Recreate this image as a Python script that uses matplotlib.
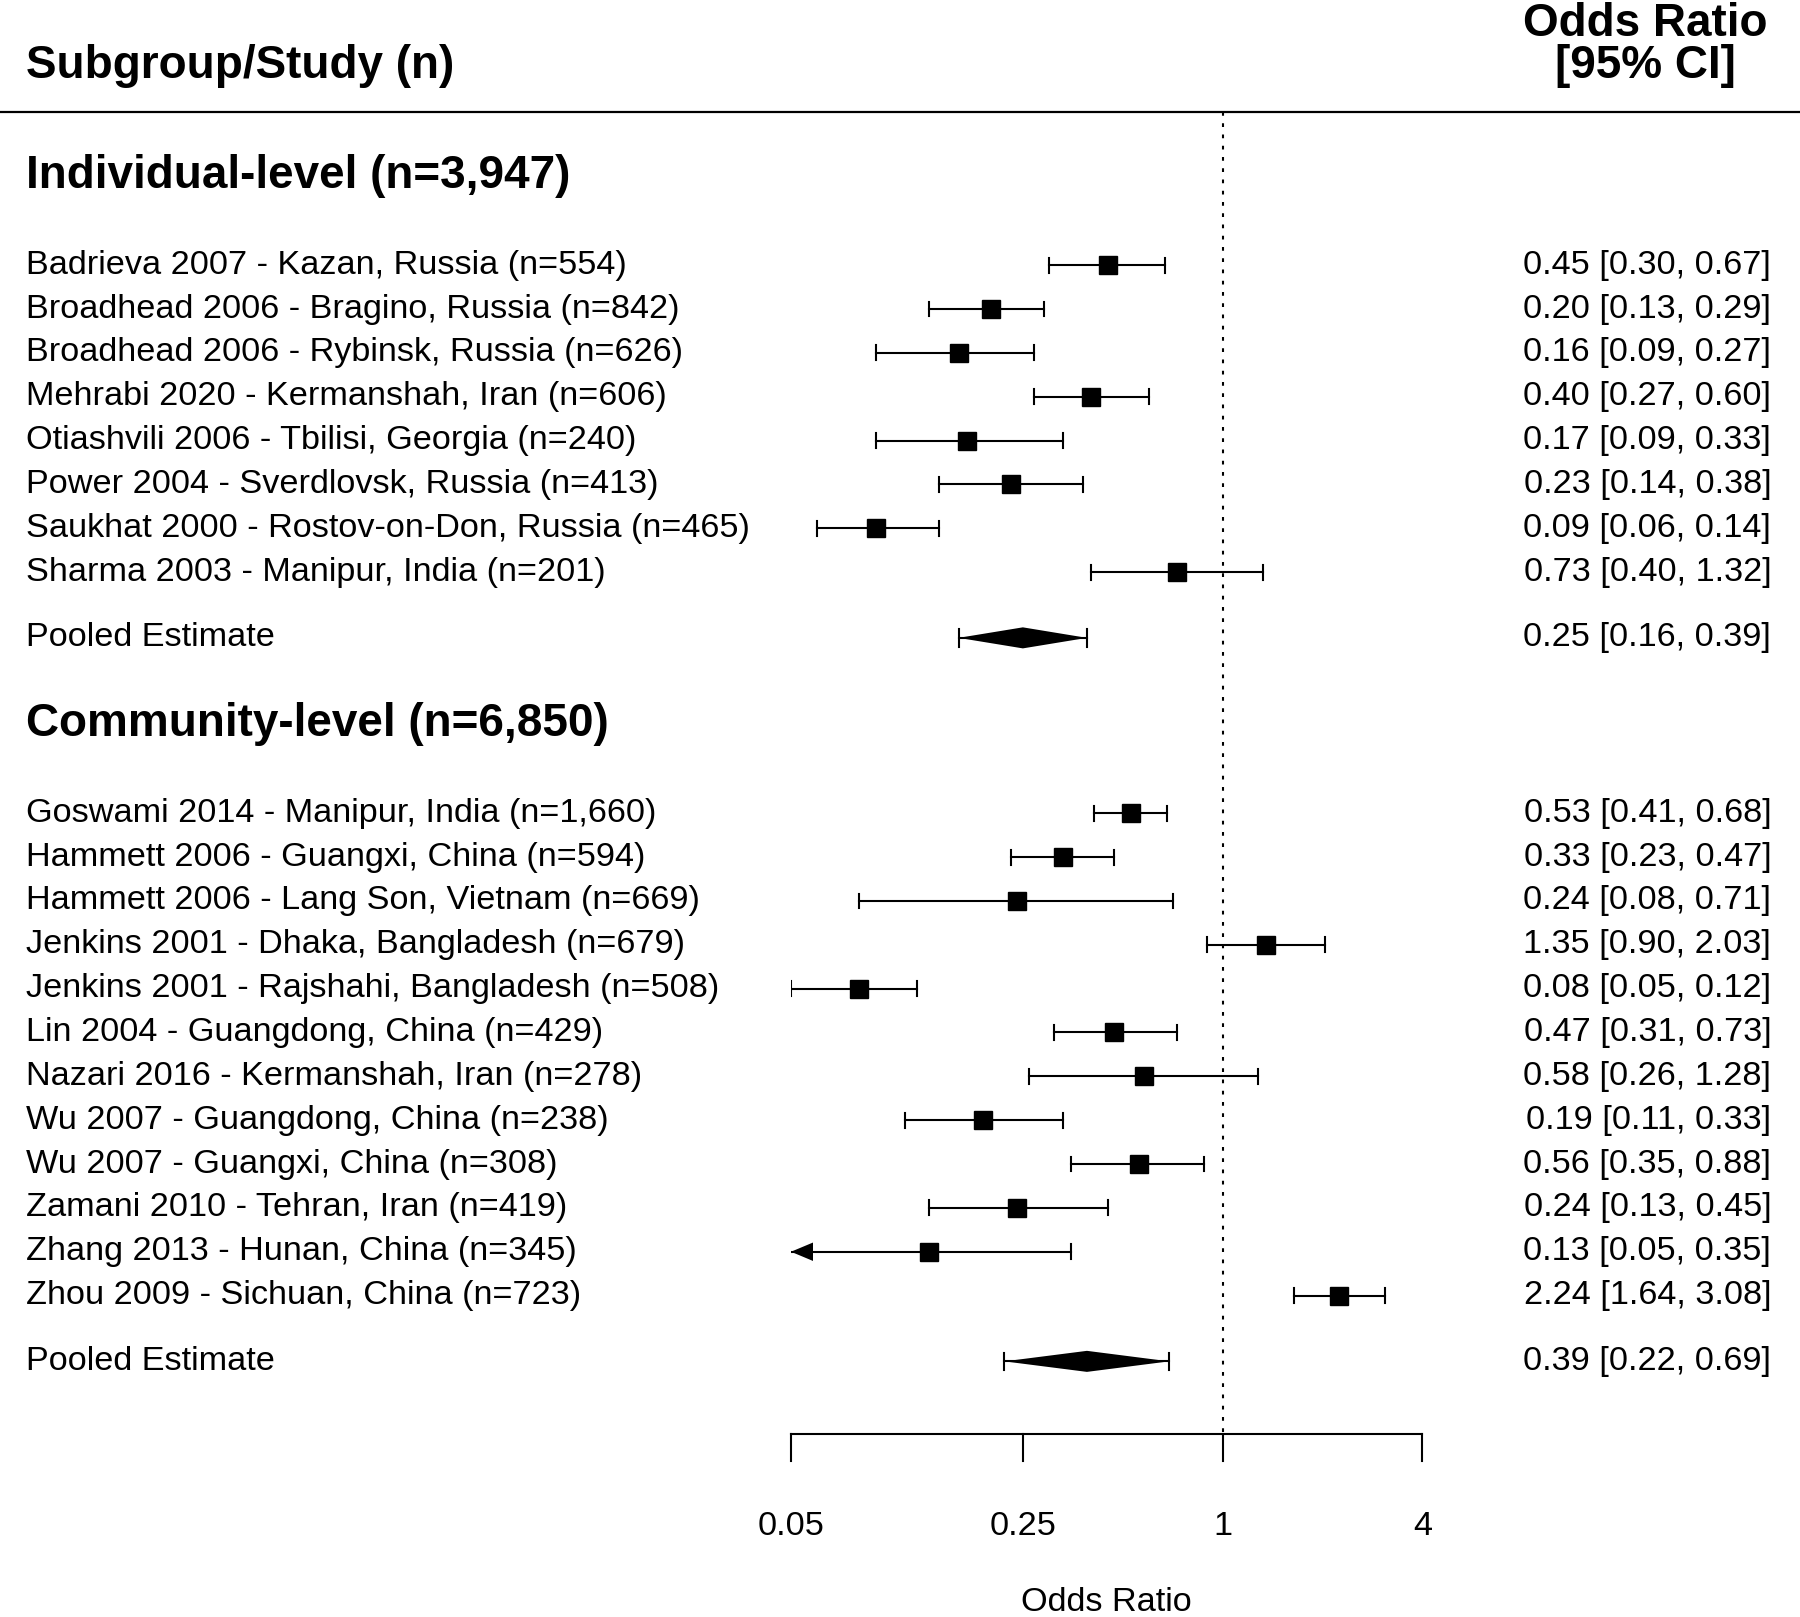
import numpy as np
import matplotlib.pyplot as plt
from matplotlib import transforms
from matplotlib.patches import Polygon

plt.rcParams['font.family'] = ['Liberation Sans', 'DejaVu Sans']

# ---- data ----
ind_title = "Individual-level (n=3,947)"
ind_studies = [
    "Badrieva 2007 - Kazan, Russia (n=554)",
    "Broadhead 2006 - Bragino, Russia (n=842)",
    "Broadhead 2006 - Rybinsk, Russia (n=626)",
    "Mehrabi 2020 - Kermanshah, Iran (n=606)",
    "Otiashvili 2006 - Tbilisi, Georgia (n=240)",
    "Power 2004 - Sverdlovsk, Russia (n=413)",
    "Saukhat 2000 - Rostov-on-Don, Russia (n=465)",
    "Sharma 2003 - Manipur, India (n=201)",
]
ind_or = [0.45, 0.20, 0.16, 0.40, 0.17, 0.23, 0.09, 0.73]
ind_lo = [0.30, 0.13, 0.09, 0.27, 0.09, 0.14, 0.06, 0.40]
ind_hi = [0.67, 0.29, 0.27, 0.60, 0.33, 0.38, 0.14, 1.32]
ind_pooled = [0.25, 0.16, 0.39]

com_title = "Community-level (n=6,850)"
com_studies = [
    "Goswami 2014 - Manipur, India (n=1,660)",
    "Hammett 2006 - Guangxi, China (n=594)",
    "Hammett 2006 - Lang Son, Vietnam (n=669)",
    "Jenkins 2001 - Dhaka, Bangladesh (n=679)",
    "Jenkins 2001 - Rajshahi, Bangladesh (n=508)",
    "Lin 2004 - Guangdong, China (n=429)",
    "Nazari 2016 - Kermanshah, Iran (n=278)",
    "Wu 2007 - Guangdong, China (n=238)",
    "Wu 2007 - Guangxi, China (n=308)",
    "Zamani 2010 - Tehran, Iran (n=419)",
    "Zhang 2013 - Hunan, China (n=345)",
    "Zhou 2009 - Sichuan, China (n=723)",
]
com_or = [0.53, 0.33, 0.24, 1.35, 0.08, 0.47, 0.58, 0.19, 0.56, 0.24, 0.13, 2.24]
com_lo = [0.41, 0.23, 0.08, 0.90, 0.05, 0.31, 0.26, 0.11, 0.35, 0.13, 0.049, 1.64]
com_hi = [0.68, 0.47, 0.71, 2.03, 0.12, 0.73, 1.28, 0.33, 0.88, 0.45, 0.35, 3.08]
com_pooled = [0.39, 0.22, 0.69]

ticks = [0.05, 0.25, 1, 4]
tick_labels = ["0.05", "0.25", "1", "4"]

# ---- layout ----
W, H = 1800, 1617
fig = plt.figure(figsize=(W / 100, H / 100), dpi=100)
px0, px1 = 791.0, 1422.3          # pixel span of the 0.05..4 axis
ax = fig.add_axes([px0 / W, 0, (px1 - px0) / W, 1])
ax.set_xscale('log')
ax.set_xlim(ticks[0], ticks[-1])
ax.set_ylim(36.83, -0.047)
ax.axis('off')

trans = transforms.blended_transform_factory(fig.transFigure, ax.transData)
FS = 24.7
FSB = 33.0
LW = 1.5
x_left = 23 / 1568
x_right = 1543 / 1568
x_hdr = 1433 / 1568
cap = 0.17
sq = 12.8
y_line = 2.5


def fmt(o, lo, hi):
    return f"{o:.2f} [{lo:.2f}, {hi:.2f}]"


def draw_study(y, o, lo, hi, label):
    xmin = ticks[0]
    if lo < xmin:
        # clipped: arrow at the axis limit
        ax.plot([xmin, hi], [y, y], color='black', lw=LW)
        k = np.exp(22 / 144.1)
        ax.add_patch(Polygon([[xmin, y], [xmin * k, y - 0.21], [xmin * k, y + 0.21]],
                             closed=True, color='black', lw=0))
        ax.plot([hi, hi], [y - cap, y + cap], color='black', lw=LW)
    else:
        ax.plot([lo, hi], [y, y], color='black', lw=LW)
        for xc in (lo, hi):
            ax.plot([xc, xc], [y - cap, y + cap], color='black', lw=LW)
    ax.plot(o, y, marker='s', ms=sq, color='black', mec='black')
    ax.text(x_left, y, label, transform=trans, fontsize=FS, va='center', ha='left')
    ax.text(x_right, y, fmt(o, lo, hi), transform=trans, fontsize=FS, va='center', ha='right')


def draw_pooled(y, pooled):
    o, lo, hi = pooled
    ax.add_patch(Polygon([[lo, y], [o, y - 0.24], [hi, y], [o, y + 0.24]],
                         closed=True, color='black', lw=0))
    ax.plot([lo, hi], [y, y], color='black', lw=LW)
    for xc in (lo, hi):
        ax.plot([xc, xc], [y - 0.2, y + 0.2], color='black', lw=LW)
    ax.text(x_left, y, "Pooled Estimate", transform=trans, fontsize=FS, va='center', ha='left')
    ax.text(x_right, y, fmt(o, lo, hi), transform=trans, fontsize=FS, va='center', ha='right')


# header
ax.text(x_left, 1.46, "Subgroup/Study (n)", transform=trans, fontsize=FSB,
        fontweight='bold', va='center', ha='left')
ax.text(x_hdr, 0.5, "Odds Ratio", transform=trans, fontsize=FSB,
        fontweight='bold', va='center', ha='center')
ax.text(x_hdr, 1.46, "[95% CI]", transform=trans, fontsize=FSB,
        fontweight='bold', va='center', ha='center')
ax.plot([0, 1], [y_line, y_line], transform=trans, color='black', lw=1.6, clip_on=False)

# groups
y = 4.0
for title, studies, ors, los, his, pooled in [
        (ind_title, ind_studies, ind_or, ind_lo, ind_hi, ind_pooled),
        (com_title, com_studies, com_or, com_lo, com_hi, com_pooled)]:
    ax.text(x_left, y - 0.04, title, transform=trans, fontsize=FSB, fontweight='bold',
            va='center', ha='left')
    y += 2
    for i, s in enumerate(studies):
        draw_study(y, ors[i], los[i], his[i], s)
        y += 1
    y += 0.5
    draw_pooled(y, pooled)
    y += 2
y_axis = y - 2 + 1.66

# reference line at OR = 1
ax.plot([1, 1], [y_line, y_axis], color='black', lw=LW, dashes=(1.8, 3.6))

# x axis
ax.plot([ticks[0], ticks[-1]], [y_axis, y_axis], color='black', lw=LW, clip_on=False)
for t, lab in zip(ticks, tick_labels):
    ax.plot([t, t], [y_axis, y_axis + 0.62], color='black', lw=LW, clip_on=False)
    ax.text(t, y_axis + 2.1, lab, fontsize=FS, ha='center', va='center')
ax.text(np.sqrt(ticks[0] * ticks[-1]), y_axis + 3.83, "Odds Ratio", fontsize=FS,
        ha='center', va='center')

fig.savefig("out.png", dpi=100)
